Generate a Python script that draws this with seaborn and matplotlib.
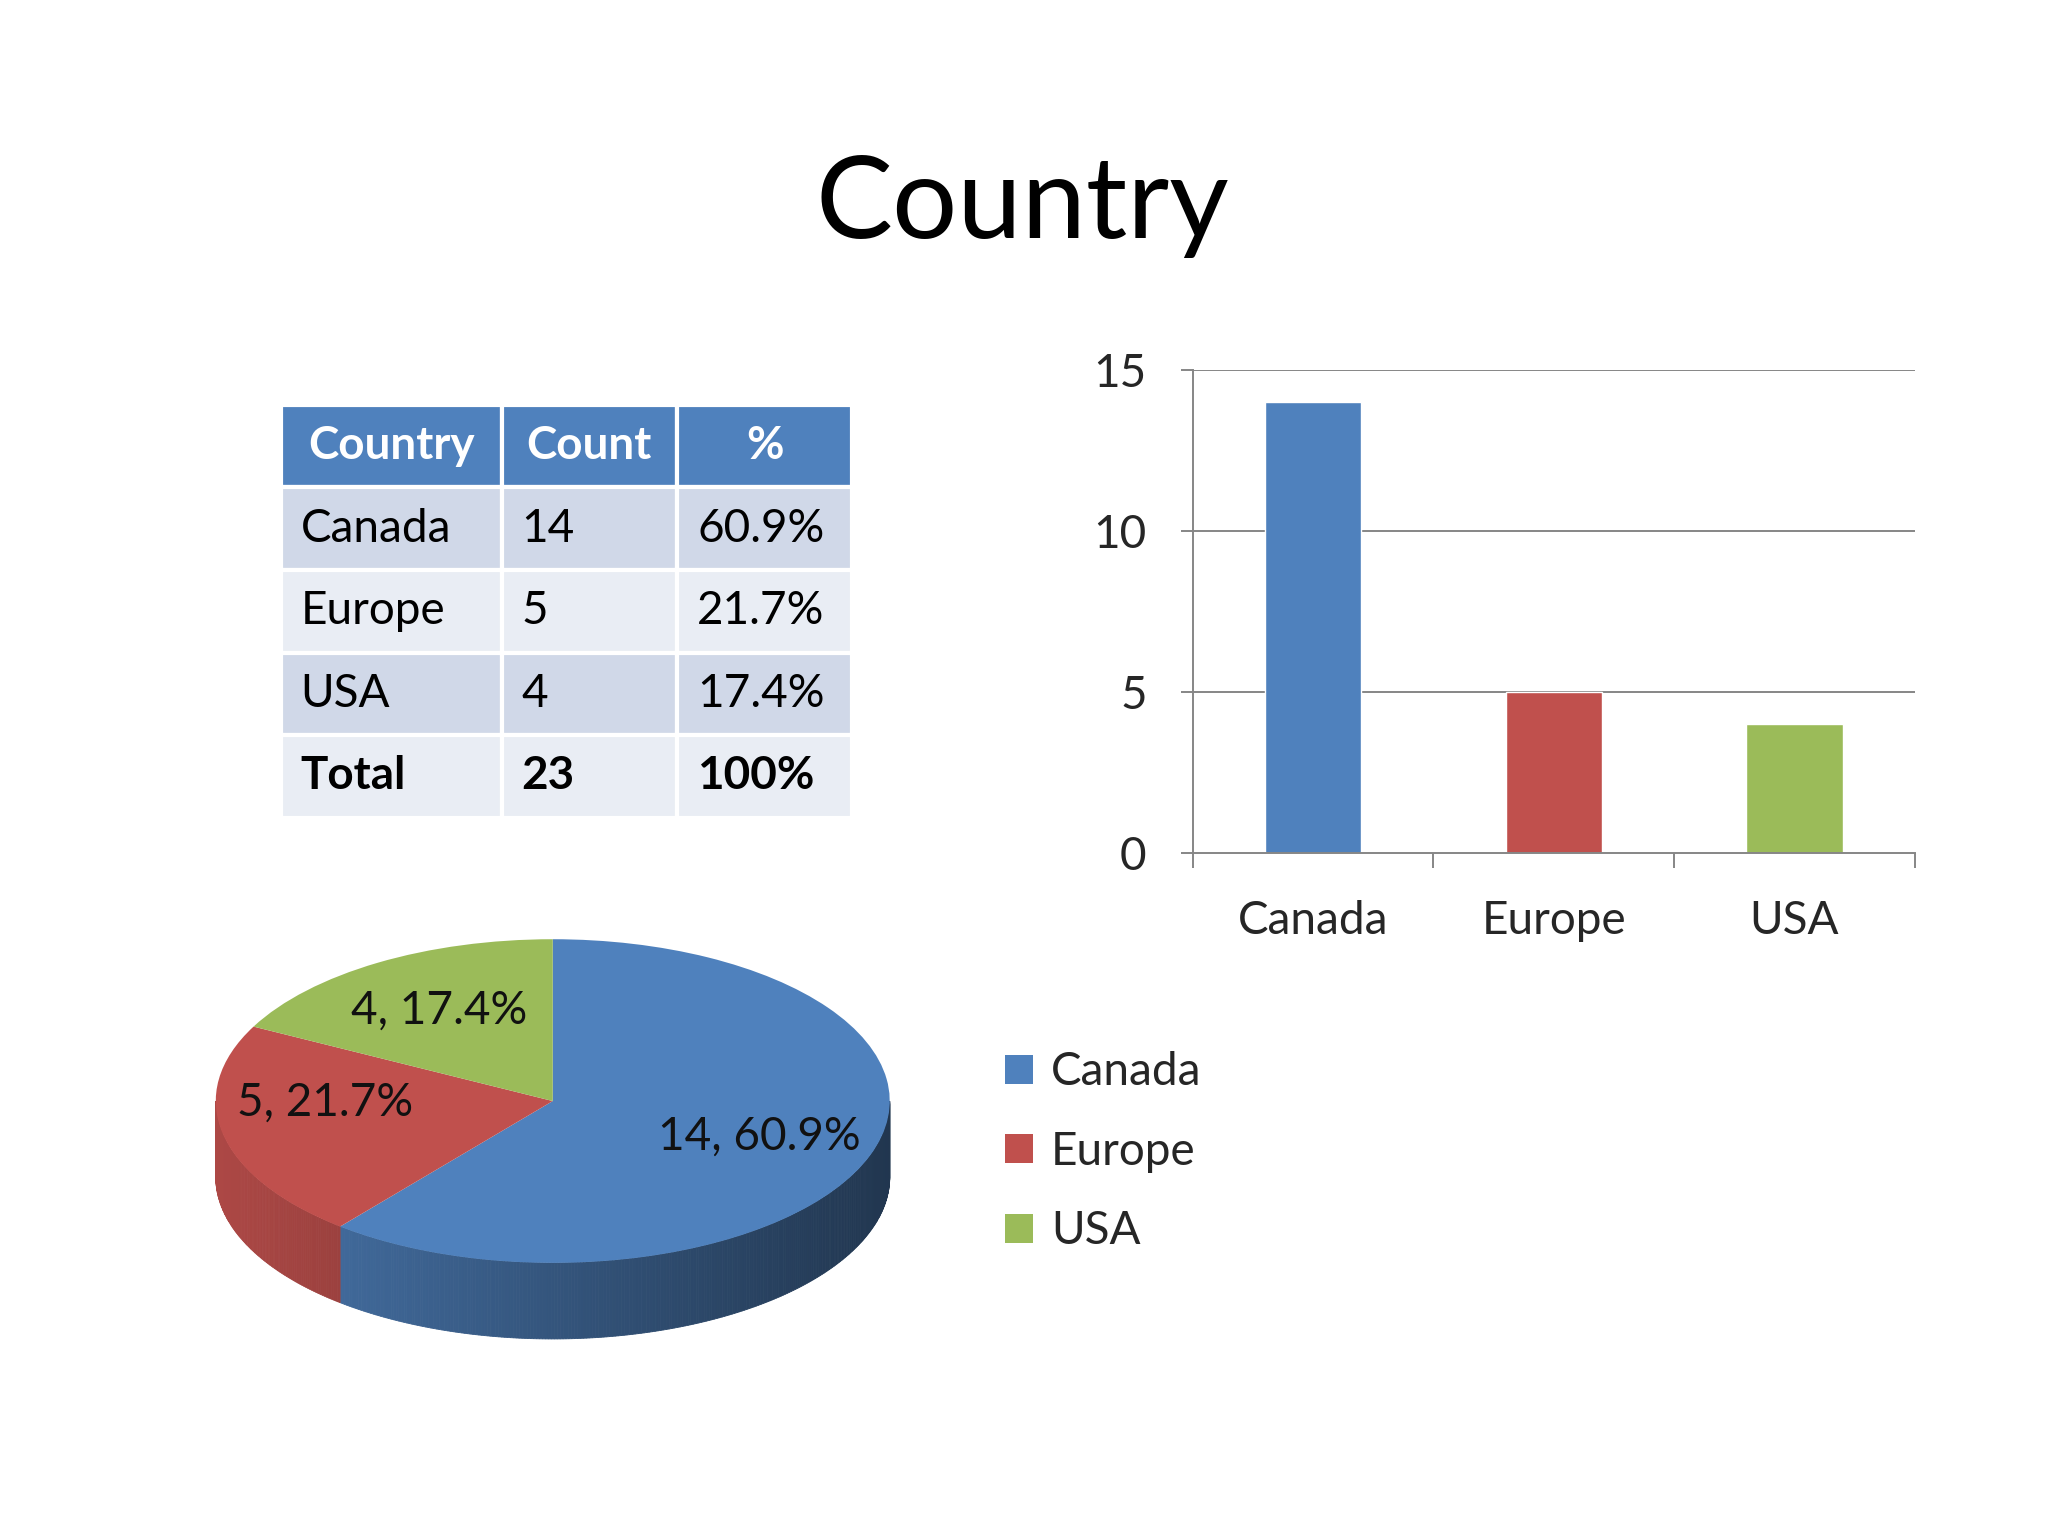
import numpy as np
import matplotlib
matplotlib.use("Agg")
import matplotlib.pyplot as plt
import seaborn as sns
from matplotlib.patches import Patch

# data
countries = ["Canada", "Europe", "USA"]
counts = [14, 5, 4]
percents = ["60.9%", "21.7%", "17.4%"]
total_count = "23"
total_pct = "100%"
table_header = ["Country", "Count", "%"]
bar_yticks = [0, 5, 10, 15]

colors = ["#4F81BD", "#C0504D", "#9BBB59"]
row_colors = ["#D0D8E8", "#E9EDF4", "#D0D8E8", "#E9EDF4"]
FONT = ["Lato", "DejaVu Sans"]

sns.set_theme(style="white")
plt.rcParams["font.family"] = FONT

fig = plt.figure(figsize=(20.48, 15.36), dpi=100)
fig.patch.set_facecolor("white")

fig.text(0.499, 0.866, "Country", ha="center", va="center", fontsize=83, color="black")

# ---- table ----
ax_t = fig.add_axes([0.137, 0.4677, 0.279, 0.2687])
ax_t.axis("off")
rows = [[c, str(n), p] for c, n, p in zip(countries, counts, percents)]
rows.append(["Total", total_count, total_pct])
col_w = [0.387, 0.307, 0.306]
tbl = ax_t.table(cellText=rows, colLabels=table_header, colWidths=col_w,
                 bbox=[0, 0, 1, 1], cellLoc="left")
tbl.auto_set_font_size(False)
tbl.set_fontsize(33)
for (r, c), cell in tbl.get_celld().items():
    cell.set_edgecolor("white")
    cell.set_linewidth(3)
    cell.PAD = 20 / (col_w[c] * 0.279 * 2048)
    txt = cell.get_text()
    if r == 0:
        cell.set_facecolor(colors[0])
        txt.set_color("white")
        txt.set_fontweight("bold")
        if c == 0:
            cell.PAD = 8 / (col_w[c] * 0.279 * 2048)
        if c == 2:
            txt.set_horizontalalignment("center")
            cell._loc = "center"
    else:
        cell.set_facecolor(row_colors[r - 1])
        txt.set_color("black")
        if r == len(rows):
            txt.set_fontweight("bold")

# ---- bar chart ----
ax_b = fig.add_axes([0.5823, 0.4447, 0.3527, 0.3147])
sns.barplot(x=countries, y=counts, hue=countries, palette=colors, width=0.4,
            legend=False, ax=ax_b, saturation=1)
ax_b.set_ylim(0, 15)
ax_b.set_xlim(-0.5, 2.5)
ax_b.set_yticks(bar_yticks)
ax_b.set_xticks(range(len(countries)))
ax_b.set_xticklabels(countries)
ax_b.set_xticks([-0.5, 0.5, 1.5, 2.5], minor=True)
gcol = "#868686"
for y in bar_yticks[1:]:
    ax_b.axhline(y, color=gcol, lw=1.4, zorder=0)
for s in ["top", "right"]:
    ax_b.spines[s].set_visible(False)
for s in ["left", "bottom"]:
    ax_b.spines[s].set_color(gcol)
    ax_b.spines[s].set_linewidth(1.4)
ax_b.tick_params(axis="y", which="major", direction="out", length=9, width=1.4,
                 color=gcol, pad=24, labelsize=33, left=True)
ax_b.tick_params(axis="x", which="major", length=0, pad=34, labelsize=33)
ax_b.tick_params(axis="x", which="minor", direction="out", length=11, width=1.4,
                 color=gcol, bottom=True)
ax_b.set_xlabel("")
ax_b.set_ylabel("")
ax_b.set_facecolor("white")

# ---- 3D-looking pie ----
ax_p = fig.add_axes([0.0889, 0.1146, 0.362, 0.295])
wedges, _, autotexts = ax_p.pie(
    counts, colors=colors, startangle=90, counterclock=False,
    autopct=lambda p: f"{round(p * sum(counts) / 100)}, {p:.1f}%",
    pctdistance=0.65, textprops={"fontsize": 33, "color": "#111111"},
    wedgeprops={"linewidth": 0})
for w in wedges:
    w.set_zorder(3)
for t in autotexts:
    t.set_zorder(4)
# nudge the Europe label a little, as in the original
ex, ey = autotexts[1].get_position()
autotexts[1].set_position((ex - 0.04, ey + 0.12))

depth = 0.47
for w, col in zip(wedges, colors):
    a, b = w.theta1, w.theta2
    base = np.array(matplotlib.colors.to_rgb(col))
    # only the front half (180..360 deg) of the rim is visible
    for off in (-360, 0, 360):
        lo, hi = max(a + off, 180), min(b + off, 360)
        if hi <= lo:
            continue
        steps = np.linspace(lo, hi, int((hi - lo) * 2) + 2)
        for s1, s2 in zip(steps[:-1], steps[1:]):
            x1, x2 = np.cos(np.radians(s1)), np.cos(np.radians(s2))
            y1, y2 = np.sin(np.radians(s1)), np.sin(np.radians(s2))
            f = np.clip(0.66 - 0.24 * (x1 + x2) / 2, 0.38, 0.9)
            ax_p.fill([x1, x2, x2, x1], [y1, y2, y2 - depth, y1 - depth],
                      color=base * f, lw=0.6, ec=base * f, zorder=2)

ax_p.set_aspect("auto")
ax_p.set_xlim(-1.1, 1.1)
ax_p.set_ylim(-1.6, 1.2)
ax_p.axis("off")

# legend for pie
handles = [Patch(facecolor=c, edgecolor="none") for c in colors]
fig.legend(handles, countries, loc="upper left", bbox_to_anchor=(0.4818, 0.3275),
           frameon=False, fontsize=33, handlelength=0.6, handleheight=0.6,
           handletextpad=0.4, labelspacing=0.82, borderaxespad=0)

fig.savefig("out.png", dpi=100, facecolor="white")
